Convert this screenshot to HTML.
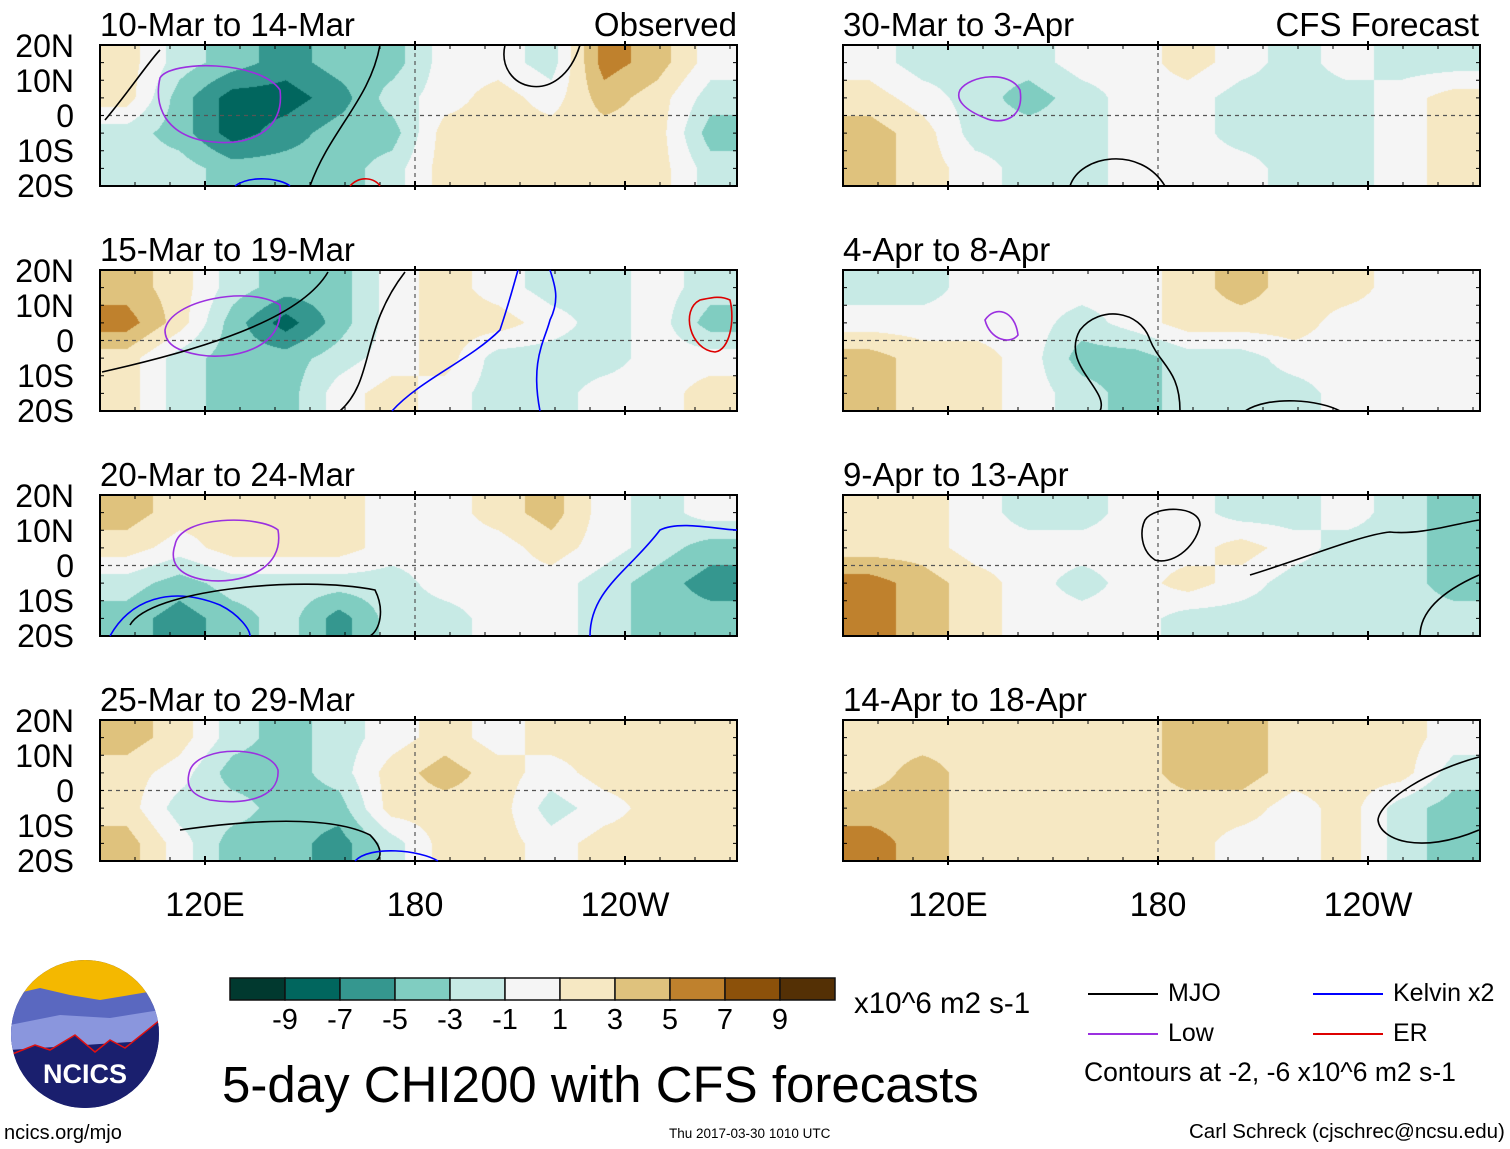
<!DOCTYPE html>
<html><head><meta charset="utf-8">
<style>
body{margin:0;background:#fff;font-family:"Liberation Sans",sans-serif;}
#wrap{position:relative;width:1510px;height:1149px;overflow:hidden;background:#fff;}
.t{position:absolute;white-space:nowrap;color:#000;line-height:1;}
.pt{font-size:33px;}
.lat{font-size:32px;text-align:right;width:70px;left:4px;}
.lon{font-size:34px;}
canvas{position:absolute;}
</style></head><body>
<div id="wrap">
<svg id="ov" width="1510" height="1149" style="position:absolute;left:0;top:0"></svg>
</div>
<script>
const titles=["10-Mar to 14-Mar","15-Mar to 19-Mar","20-Mar to 24-Mar","25-Mar to 29-Mar","30-Mar to 3-Apr","4-Apr to 8-Apr","9-Apr to 13-Apr","14-Apr to 18-Apr"];
const levels=[-9,-7,-5,-3,-1,1,3,5,7,9];
const colors=["#01392f","#01665e","#35978f","#80cdc1","#c7eae5","#f5f5f5","#f6e8c3","#dfc27d","#bf812d","#8c510a","#543005"];
const latLabels=["20N","10N","0","10S","20S"];
const lonLabels=["120E","180","120W"];
const lonTicks=[120,180,240];
// rows: 20N-10N, 10N-0, 0-10S, 10S-20S ; cols 15deg bins from 90E
const p1=[[2,-2,-4,-6,-4,-4,0,0,-2,6,4,0],[2,-4,-8,-8,-6,-2,0,2,0,4,2,-2],[-2,-4,-8,-6,-4,-4,2,2,2,2,2,-4],[-2,-2,-4,-4,-4,-2,2,2,2,2,2,-2]];
const p2=[[4,2,-2,-4,-4,0,2,0,-2,-2,0,-2],[6,2,-4,-8,-4,0,2,2,0,-2,0,-4],[2,-2,-4,-4,-2,0,2,-2,-2,-2,0,0],[2,-2,-4,-4,0,2,0,-2,-2,0,0,2]];
const p3=[[4,2,2,2,2,0,0,2,4,0,-2,0],[2,0,2,2,2,0,0,0,2,0,-2,-4],[-2,-4,-2,-2,-2,-2,0,0,0,-2,-4,-6],[-4,-6,-4,-2,-6,-2,-2,0,0,-2,-4,-4]];
const p4=[[4,2,-2,-4,-2,0,2,0,2,2,2,2],[2,0,-4,-4,-2,2,4,2,0,2,2,2],[2,-2,-2,-4,-4,2,2,2,-2,0,2,2],[4,0,-4,-4,-6,-2,2,2,0,2,2,2]];
const p5=[[0,-2,-2,-2,0,0,2,0,-2,0,-2,-2],[2,0,-2,-4,-2,0,0,-2,-2,-2,0,2],[4,2,-2,-2,-2,0,0,-2,-2,-2,0,2],[4,2,0,-2,-2,0,0,0,-2,-2,0,2]];
const p6=[[-2,-2,0,0,0,0,2,4,2,2,0,0],[0,0,0,0,-2,0,2,2,2,0,0,0],[4,2,2,0,-4,-4,-2,-2,0,0,0,0],[4,2,2,0,-2,-4,-2,-2,-2,0,0,0]];
const p7=[[2,2,0,-2,-2,0,0,-2,-2,0,-2,-4],[2,2,0,0,0,0,0,2,0,-2,-2,-4],[6,4,2,0,-2,0,2,0,-2,-2,-2,-4],[6,4,2,0,0,0,-2,-2,-2,-2,-2,-2]];
const p8=[[2,2,2,2,2,2,4,4,2,2,2,0],[2,4,2,2,2,2,4,4,2,2,2,-2],[4,4,2,2,2,2,2,2,0,2,-2,-4],[6,4,2,2,2,2,2,0,0,2,-2,-4]];
const panelsData=[p1,p2,p3,p4,p5,p6,p7,p8];

const W=637,H=141,lon0=90,lon1=272;
const colX=[100,843], rowY=[45,270,495,720];
const NS="http://www.w3.org/2000/svg";
const wrap=document.getElementById('wrap'), ov=document.getElementById('ov');
function xs(lon,px){return px+(lon-lon0)/(lon1-lon0)*W;}
function ys(lat,py){return py+(20-lat)/40*H;}
function hex(c){return [parseInt(c.substr(1,2),16),parseInt(c.substr(3,2),16),parseInt(c.substr(5,2),16)];}
const rgb=colors.map(hex);
function sv(tag,attrs,name,parent){const e=document.createElementNS(NS,tag);for(const k in attrs)e.setAttribute(k,attrs[k]);


(parent||ov).appendChild(e);return e;}
function txt(s,x,y,cls,name,extra){const d=document.createElement('div');d.className='t '+(cls||'');d.textContent=s;d.style.left=x+'px';d.style.top=y+'px';if(extra)Object.assign(d.style,extra);


wrap.appendChild(d);return d;}

panelsData.forEach((grid,p)=>{
  const col=p<4?0:1,row=p%4,px=colX[col],py=rowY[row];
  const cv=document.createElement('canvas');cv.width=W;cv.height=H;cv.style.left=px+'px';cv.style.top=py+'px';
  
  
  wrap.insertBefore(cv,ov);
  const ctx=cv.getContext('2d'),img=ctx.createImageData(W,H);
  const nr=grid.length,nc=grid[0].length;
  for(let y=0;y<H;y++){
    let gy=(y+0.5)/H*nr-0.5;gy=Math.max(0,Math.min(nr-1,gy));const r0=Math.min(nr-2,Math.floor(gy)),r1=r0+1,fy=gy-r0;
    for(let x=0;x<W;x++){
      let gx=(x+0.5)/W*nc-0.5;gx=Math.max(0,Math.min(nc-1,gx));const c0=Math.min(nc-2,Math.floor(gx)),c1=c0+1,fx=gx-c0;
      const v=(grid[r0][c0]*(1-fx)+grid[r0][c1]*fx)*(1-fy)+(grid[r1][c0]*(1-fx)+grid[r1][c1]*fx)*fy;
      let i=0;while(i<levels.length&&v>levels[i])i++;
      const k=(y*W+x)*4;img.data[k]=rgb[i][0];img.data[k+1]=rgb[i][1];img.data[k+2]=rgb[i][2];img.data[k+3]=255;
    }
  }
  ctx.putImageData(img,0,0);
  sv('line',{x1:px,x2:px+W,y1:ys(0,py),y2:ys(0,py),stroke:'#555','stroke-width':1.2,'stroke-dasharray':'4,4'},'equator-line');
  sv('line',{x1:xs(180,px),x2:xs(180,px),y1:py,y2:py+H,stroke:'#555','stroke-width':1.2,'stroke-dasharray':'4,4'},'dateline');
  sv('rect',{x:px,y:py,width:W,height:H,fill:'none',stroke:'#000','stroke-width':2},'panel-frame');
  for(let lon=90;lon<=270;lon+=10){const x=xs(lon,px);
    sv('line',{x1:x,x2:x,y1:py,y2:py+4,stroke:'#000','stroke-width':1},'tick');
    sv('line',{x1:x,x2:x,y1:py+H,y2:py+H-4,stroke:'#000','stroke-width':1},'tick');}
  lonTicks.forEach(l=>{const x=xs(l,px);sv('line',{x1:x,x2:x,y1:py-4,y2:py+5,stroke:'#000','stroke-width':2},'major-tick');
    sv('line',{x1:x,x2:x,y1:py+H-5,y2:py+H+4,stroke:'#000','stroke-width':2},'major-tick');});
  for(let lat=-20;lat<=20;lat+=5){const y=ys(lat,py);
    sv('line',{x1:px,x2:px+4,y1:y,y2:y,stroke:'#000','stroke-width':1},'tick');
    sv('line',{x1:px+W,x2:px+W-4,y1:y,y2:y,stroke:'#000','stroke-width':1},'tick');}
  txt(titles[p],px,py-37,'pt','panel-title');
  if(col===0) latLabels.forEach((s,i)=>txt(s,4,py-15+i*35,'lat','lat-label'));
});
txt("Observed",737,8,'pt','observed-label',{transform:'translateX(-100%)'});
txt("CFS Forecast",1479,8,'pt','forecast-label',{transform:'translateX(-100%)'});
colX.forEach(px=>lonLabels.forEach((s,i)=>{const x=xs(lonTicks[i],px);txt(s,x,888,'lon','lon-label',{transform:'translateX(-50%)'});}));

const contours=[
 ['M160,78 C170,60 260,60 280,90 C285,130 250,150 200,140 C160,130 155,100 160,78Z','#9b30e0'],
 ['M310,186 C330,130 370,100 380,45','#000'],['M105,120 C130,90 150,60 160,50','#000'],
 ['M505,45 C495,90 560,110 580,45','#000'],['M235,186 C250,175 280,178 290,186','#00f'],['M350,186 C360,175 375,178 380,186','#d00'],
 ['M165,330 C170,300 250,285 280,305 C285,350 230,360 200,355 C170,350 165,340 165,330Z','#9b30e0'],
 ['M102,372 C200,350 300,320 328,272','#000'],['M340,411 C375,380 360,330 405,272','#000'],
 ['M392,411 C420,380 470,360 500,330 C510,300 515,280 518,270','#00f'],['M540,411 C530,360 545,340 550,320 C560,300 555,285 550,270','#00f'],
 ['M700,300 C680,310 690,350 715,352 C730,350 735,320 730,300 C720,295 710,298 700,300Z','#d00'],
 ['M175,545 C180,515 260,515 278,530 C285,570 240,585 205,580 C175,575 170,560 175,545Z','#9b30e0'],
 ['M110,636 C130,600 170,585 220,605 C240,615 250,630 250,636','#00f'],['M130,625 C150,590 300,575 375,590 C385,610 380,630 370,636','#000'],
 ['M590,636 C590,590 630,570 660,530 C680,520 720,530 737,530','#00f'],
 ['M190,770 C200,745 270,745 278,770 C280,800 240,805 210,800 C190,795 185,785 190,770Z','#9b30e0'],
 ['M180,830 C250,820 330,815 370,835 C385,850 380,860 375,861','#000'],['M355,861 C370,845 420,850 438,861','#00f'],
 ['M960,90 C970,75 1010,70 1020,90 C1025,120 1000,125 985,118 C965,110 955,100 960,90Z','#9b30e0'],
 ['M1070,186 C1080,155 1140,145 1165,186','#000'],
 ['M985,320 C995,305 1015,310 1018,335 C1010,345 990,340 985,320Z','#9b30e0'],
 ['M1100,411 C1110,390 1060,365 1080,330 C1100,305 1140,310 1150,340 C1160,365 1180,370 1180,411','#000'],
 ['M1245,411 C1270,395 1320,400 1340,411','#000'],
 ['M1145,520 C1155,505 1200,505 1200,525 C1195,550 1170,565 1155,560 C1140,550 1140,530 1145,520Z','#000'],
 ['M1250,575 C1300,560 1360,535 1390,532 C1420,535 1450,525 1479,520','#000'],['M1479,575 C1445,590 1420,610 1420,636','#000'],
 ['M1479,757 C1430,770 1380,800 1378,820 C1380,840 1420,855 1479,830','#000']
];
contours.forEach(c=>sv('path',{d:c[0],fill:'none',stroke:c[1],'stroke-width':1.6},'contour-line'));

const cbX=230,cbY=978,cbW=55,cbH=22;
colors.forEach((c,i)=>sv('rect',{x:cbX+i*cbW,y:cbY,width:cbW,height:cbH,fill:c,stroke:'#111','stroke-width':1.5},'colorbar-box'));
levels.forEach((l,i)=>txt(String(l),cbX+(i+1)*cbW,1006,'','colorbar-label',{fontSize:'29px',transform:'translateX(-50%)'}));
txt("x10^6 m2 s-1",854,989,'','colorbar-units',{fontSize:'29.5px'});
txt("5-day CHI200 with CFS forecasts",222,1059,'','main-title',{fontSize:'51px'});
[["MJO","#000",1088,994],["Low","#9b30e0",1088,1034],["Kelvin x2","#00f",1313,994],["ER","#d00",1313,1034]].forEach(e=>{
 sv('line',{x1:e[2],x2:e[2]+70,y1:e[3],y2:e[3],stroke:e[1],'stroke-width':2},'legend-line');
 txt(e[0],e[2]+80,e[3]-13,'','legend-entry',{fontSize:'25px'});});
txt("Contours at -2, -6 x10^6 m2 s-1",1084,1059,'','contour-note',{fontSize:'26.5px'});
txt("ncics.org/mjo",4,1123,'','site-url',{fontSize:'20px'});
txt("Thu 2017-03-30 1010 UTC",669,1127,'','timestamp',{fontSize:'13.5px'});
txt("Carl Schreck (cjschrec@ncsu.edu)",1189,1122,'','author',{fontSize:'20.5px'});
const g=sv('g',{},'ncics-logo');
const defs=sv('defs',{},'logo-defs',g);
const cp=sv('clipPath',{id:'lc'},'logo-clip',defs);sv('circle',{cx:85,cy:1034,r:74},'logo-clip-circle',cp);
const lg=sv('g',{'clip-path':'url(#lc)'},'logo-art',g);
sv('rect',{x:10,y:958,width:150,height:152,fill:'#1a1f6e'},'logo-bg',lg);
sv('rect',{x:10,y:958,width:150,height:45,fill:'#f4b800'},'logo-sun',lg);
sv('path',{d:'M10,995 L40,988 L70,995 L100,1000 L130,995 L160,990 L160,1040 L10,1045Z',fill:'#5a68c0'},'logo-mtn',lg);
sv('path',{d:'M10,1025 L60,1015 L110,1018 L160,1010 L160,1040 L10,1050Z',fill:'#8a96dd'},'logo-mtn2',lg);
sv('path',{d:'M10,1055 L35,1045 L50,1050 L75,1035 L95,1052 L110,1040 L125,1048 L160,1020 L160,1110 L10,1110Z',fill:'#1a1f6e',stroke:'#e01010','stroke-width':1.5},'logo-ridge',lg);
const lt=sv('text',{x:85,y:1083,'text-anchor':'middle','font-size':'27','font-weight':'bold',fill:'#fff','font-family':'Liberation Sans, sans-serif'},'logo-text',g);lt.textContent='NCICS';
</script>
</body></html>
